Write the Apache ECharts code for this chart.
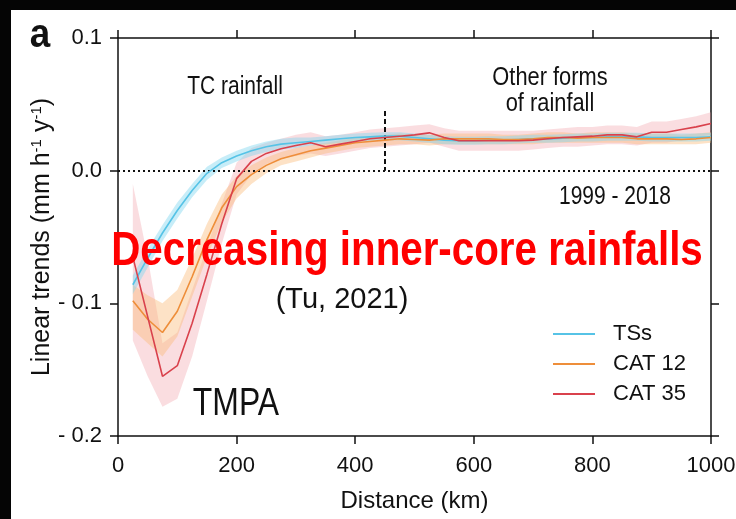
<!DOCTYPE html>
<html><head><meta charset="utf-8">
<script src="https://cdn.jsdelivr.net/npm/echarts@6/dist/echarts.min.js"></script>
<style>html,body{margin:0;padding:0;background:#fff}#c{width:736px;height:519px}</style>
</head><body><div id="c"></div>
<script>
// Distances (km)
const distance = [25,50,75,100,125,150,175,200,225,250,275,300,325,350,375,400,425,450,475,500,525,550,575,600,625,650,675,700,725,750,775,800,825,850,875,900,925,950,975,1000];
// TSs
const tsMid = [-0.086,-0.066,-0.047,-0.030,-0.015,-0.002,0.006,0.011,0.015,0.018,0.020,0.021,0.022,0.023,0.024,0.025,0.0255,0.026,0.026,0.025,0.024,0.023,0.0225,0.0225,0.023,0.023,0.0235,0.024,0.024,0.0245,0.025,0.025,0.0255,0.0255,0.0255,0.025,0.025,0.025,0.025,0.0255];
const tsLo  = [-0.093,-0.073,-0.053,-0.036,-0.020,-0.007,0.002,0.007,0.011,0.014,0.016,0.017,0.019,0.020,0.021,0.022,0.0225,0.023,0.023,0.022,0.021,0.020,0.0195,0.0195,0.020,0.020,0.0205,0.021,0.021,0.0215,0.022,0.022,0.0225,0.0225,0.0225,0.022,0.022,0.022,0.022,0.0225];
const tsHi  = [-0.079,-0.059,-0.041,-0.024,-0.010,0.003,0.010,0.015,0.019,0.022,0.024,0.025,0.025,0.026,0.027,0.028,0.0285,0.029,0.029,0.028,0.027,0.026,0.0255,0.0255,0.026,0.026,0.0265,0.027,0.027,0.0275,0.028,0.028,0.0285,0.0285,0.0285,0.028,0.028,0.028,0.028,0.0285];
// CAT 12
const c12Mid = [-0.098,-0.112,-0.122,-0.106,-0.080,-0.052,-0.028,-0.012,-0.003,0.004,0.009,0.012,0.015,0.017,0.019,0.021,0.022,0.023,0.024,0.0235,0.023,0.024,0.024,0.024,0.024,0.0235,0.0235,0.024,0.025,0.025,0.0245,0.025,0.025,0.025,0.024,0.024,0.024,0.0235,0.024,0.025];
const c12Lo  = [-0.120,-0.130,-0.140,-0.125,-0.095,-0.065,-0.039,-0.021,-0.010,-0.002,0.004,0.007,0.010,0.013,0.015,0.017,0.018,0.019,0.020,0.020,0.019,0.020,0.020,0.020,0.020,0.020,0.020,0.020,0.021,0.021,0.021,0.021,0.021,0.021,0.020,0.020,0.020,0.020,0.020,0.021];
const c12Hi  = [-0.086,-0.094,-0.100,-0.090,-0.066,-0.040,-0.018,-0.004,0.004,0.010,0.014,0.017,0.019,0.021,0.023,0.025,0.026,0.027,0.028,0.027,0.027,0.028,0.028,0.028,0.028,0.027,0.027,0.028,0.029,0.029,0.028,0.029,0.029,0.029,0.028,0.028,0.028,0.027,0.028,0.029];
// CAT 35
const c35Mid = [-0.065,-0.110,-0.155,-0.147,-0.115,-0.078,-0.040,-0.006,0.007,0.013,0.0165,0.019,0.021,0.018,0.020,0.022,0.024,0.025,0.026,0.027,0.0285,0.025,0.0225,0.0225,0.0225,0.0225,0.0225,0.023,0.024,0.025,0.0255,0.026,0.027,0.027,0.0255,0.029,0.029,0.031,0.033,0.0355];
const c35Lo  = [-0.128,-0.155,-0.178,-0.172,-0.140,-0.098,-0.055,-0.018,-0.003,0.005,0.009,0.011,0.013,0.011,0.013,0.015,0.017,0.018,0.019,0.020,0.021,0.018,0.015,0.015,0.015,0.015,0.015,0.016,0.017,0.018,0.018,0.019,0.020,0.020,0.019,0.021,0.021,0.023,0.025,0.027];
const c35Hi  = [-0.010,-0.065,-0.130,-0.122,-0.090,-0.058,-0.025,0.006,0.017,0.021,0.024,0.027,0.029,0.026,0.027,0.029,0.031,0.032,0.033,0.034,0.035,0.032,0.030,0.030,0.030,0.030,0.030,0.030,0.031,0.032,0.033,0.033,0.034,0.034,0.033,0.037,0.037,0.039,0.041,0.044];
const seriesNames = ['TSs','CAT 12','CAT 35'];
const yTicks = {'0.1':'0.1','0':'0.0','-0.1':'- 0.1','-0.2':'- 0.2'};
const dividerX = 450, dividerTop = 0.045;

const FONT = '"Liberation Sans", Arial, sans-serif';
const chart = echarts.init(document.getElementById('c'));

function band(lo, hi, color, z) {
  return {
    type: 'custom', coordinateSystem: 'cartesian2d', silent: true, z: z,
    data: distance.map((d, i) => [d, lo[i], hi[i]]),
    encode: { x: 0, y: [1, 2] },
    renderItem: function (params, api) {
      if (params.dataIndex !== 0) return null;
      const pts = [];
      for (let i = 0; i < distance.length; i++) pts.push(api.coord([distance[i], hi[i]]));
      for (let i = distance.length - 1; i >= 0; i--) pts.push(api.coord([distance[i], lo[i]]));
      return { type: 'polygon', shape: { points: pts }, style: { fill: color } };
    }
  };
}
function line(name, mid, color) {
  return {
    name: name, type: 'line', data: distance.map((d, i) => [d, mid[i]]),
    showSymbol: false, symbol: 'none', z: 5,
    lineStyle: { color: color, width: 1.6 }, itemStyle: { color: color }
  };
}
const axisLine = { show: true, onZero: false, lineStyle: { color: '#111', width: 1.5 } };
const axisTick = { show: true, inside: false, length: 8, lineStyle: { color: '#111', width: 1.5 } };
function txt(x, y, text, font, sx, extra) {
  return Object.assign({ type: 'text', x: x, y: y, scaleX: sx,
    style: { text: text, font: font, fill: '#111', textAlign: 'center', textVerticalAlign: 'middle' } }, extra || {});
}

chart.setOption({
  backgroundColor: '#fff',
  animation: false,
  grid: { left: 118, right: 25, top: 38, bottom: 83, outerBoundsMode: 'none', containLabel: false },
  xAxis: [
    { type: 'value', min: 0, max: 1000, interval: 200, position: 'bottom',
      axisLine: axisLine, axisTick: axisTick, splitLine: { show: false },
      axisLabel: { color: '#111', fontFamily: FONT, fontSize: 22, margin: 19, formatter: v => String(v) },
      name: 'Distance (km)', nameLocation: 'middle', nameGap: 53, nameMoveOverlap: false,
      nameTextStyle: { color: '#111', fontFamily: FONT, fontSize: 24 } },
    { type: 'value', min: 0, max: 1000, interval: 200, position: 'top',
      axisLine: axisLine, axisTick: axisTick, splitLine: { show: false }, axisLabel: { show: false } }
  ],
  yAxis: [
    { type: 'value', min: -0.2, max: 0.1, interval: 0.1, position: 'left',
      axisLine: axisLine, axisTick: axisTick, splitLine: { show: false },
      axisLabel: { color: '#111', fontFamily: FONT, fontSize: 22, margin: 16,
        formatter: v => yTicks[String(Math.round(v * 10) / 10)] },
      name: 'Linear trends (mm h{sup|-1} y{sup|-1})', nameLocation: 'middle', nameGap: 62, nameRotate: 90,
      nameMoveOverlap: false,
      nameTextStyle: { color: '#111', fontFamily: FONT, fontSize: 25,
        rich: { sup: { fontFamily: FONT, fontSize: 15, verticalAlign: 'top', padding: [0, 0, 12, 0], color: '#111' } } } },
    { type: 'value', min: -0.2, max: 0.1, interval: 0.1, position: 'right',
      axisLine: axisLine, axisTick: axisTick, splitLine: { show: false }, axisLabel: { show: false } }
  ],
  legend: {
    data: seriesNames, orient: 'vertical', left: 548, top: 318, itemWidth: 42, itemHeight: 2,
    icon: 'rect', itemGap: 8, selectedMode: false,
    textStyle: { color: '#111', fontFamily: FONT, fontSize: 22, lineHeight: 21, padding: [0, 0, 0, 13] }
  },
  series: [
    band(c35Lo, c35Hi, 'rgba(238,150,160,0.32)', 1),
    band(c12Lo, c12Hi, 'rgba(250,185,120,0.42)', 2),
    band(tsLo, tsHi, 'rgba(130,215,240,0.45)', 3),
    Object.assign(line(seriesNames[0], tsMid, '#56C3E6'), {
      markLine: { silent: true, symbol: 'none', label: { show: false },
        data: [
          { yAxis: 0, lineStyle: { color: '#111', type: [2, 3], width: 2 } },
          [ { coord: [dividerX, dividerTop], lineStyle: { color: '#111', type: [5, 3], width: 2 } }, { coord: [dividerX, 0] } ]
        ] } }),
    line(seriesNames[1], c12Mid, '#EE8E3A'),
    line(seriesNames[2], c35Mid, '#D9414C')
  ],
  graphic: [
    { type: 'rect', shape: { x: 0, y: 0, width: 736, height: 10 }, style: { fill: '#050505' }, z: 100 },
    { type: 'rect', shape: { x: 0, y: 0, width: 11, height: 519 }, style: { fill: '#050505' }, z: 100 },
    txt(40, 36, 'a', 'bold 40px ' + FONT, 0.92, { z: 100 }),
    txt(235, 87, 'TC rainfall', '25px ' + FONT, 0.84),
    txt(550, 91, 'Other forms\nof rainfall', '26px ' + FONT, 0.84),
    txt(615, 197, '1999 - 2018', '25px ' + FONT, 0.84),
    txt(236, 405, 'TMPA', '38px ' + FONT, 0.84),
    { type: 'text', x: 407, y: 252, scaleX: 0.84, z: 50, style: { text: 'Decreasing inner-core rainfalls', font: 'bold 48px ' + FONT, fill: '#FF0000', textAlign: 'center', textVerticalAlign: 'middle' } },
    { type: 'text', x: 342, y: 300, z: 50, style: { text: '(Tu, 2021)', font: '29px ' + FONT, fill: '#111', textAlign: 'center', textVerticalAlign: 'middle' } }
  ]
});
</script></body></html>
